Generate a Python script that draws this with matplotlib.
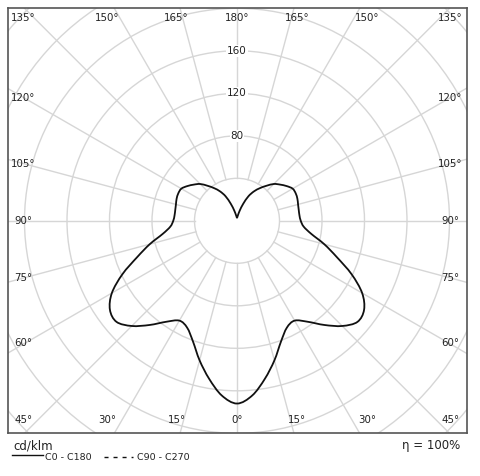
import numpy as np
import matplotlib.pyplot as plt
from matplotlib.patches import Circle, PathPatch
from matplotlib.path import Path
from matplotlib.lines import Line2D

# Lichtstärkeverteilung (cd/klm), C0 - C180, gamma 0..180 in 5°-Schritten
gamma = np.arange(0, 181, 5)
c0_c180 = [172, 165, 151, 136, 121, 111, 108.5, 116, 128, 140,
           148, 146, 136, 119, 100, 85, 71, 63, 60, 59,
           59, 59.5, 60.5, 61, 60.5, 57, 53, 49, 43, 37.5,
           32, 25.5, 17, 10, 5.5, 3.5, 2.5]

ring_values = [40, 80, 120, 160, 200, 240, 280]
ring_labels = [80, 120, 160]
spoke_angles = np.arange(0, 360, 15)
top_labels = [135, 150, 165, 180]
side_labels = [60, 75, 90, 105, 120]
bottom_labels = [0, 15, 30, 45]

W, H = 480, 476
S = 1.0625            # Pixel pro cd/klm
cx, cy = 237, 220.8   # Mittelpunkt in Pixeln
left, right, top, bottom = 8, 466.5, 8, 432.5

fig = plt.figure(figsize=(W / 100, H / 100), dpi=100)
ax = fig.add_axes([left / W, 1 - bottom / H, (right - left) / W, (bottom - top) / H])
ax.set_xlim((left - cx) / S, (right - cx) / S)
ax.set_ylim((cy - bottom) / S, (cy - top) / S)
ax.set_xticks([])
ax.set_yticks([])
for sp in ax.spines.values():
    sp.set_color('#555555')
    sp.set_linewidth(1.2)

grid = '#d6d6d6'
# Ringe
for r in ring_values:
    ax.add_patch(Circle((0, 0), r, fill=False, ec=grid, lw=1.0, zorder=1))
# Speichen (ab 40)
for a in spoke_angles:
    t = np.radians(a)
    ax.plot([40 * np.sin(t), 400 * np.sin(t)], [-40 * np.cos(t), -400 * np.cos(t)],
            color=grid, lw=1.0, zorder=1)

# Kurve (symmetrisch, geschlossen), glatt gezeichnet als Bezier-Pfad
g = np.radians(gamma)
r = np.array(c0_c180)
g_full = np.concatenate([g, 2 * np.pi - g[-2:0:-1]])
r_full = np.concatenate([r, r[-2:0:-1]])
P = np.column_stack([r_full * np.sin(g_full), -r_full * np.cos(g_full)])
n = len(P)
cusp = len(gamma) - 1   # Spitze bei 180°
verts = [P[0]]
codes = [Path.MOVETO]
for i in range(n):
    j = (i + 1) % n
    p0, p1, p2, p3 = P[i - 1], P[i], P[j], P[(i + 2) % n]
    c1 = p1 if i == cusp else p1 + (p2 - p0) / 6
    c2 = p2 if j == cusp else p2 - (p3 - p1) / 6
    verts += [c1, c2, p2]
    codes += [Path.CURVE4] * 3
ax.add_patch(PathPatch(Path(verts, codes), fill=False, ec='#111111', lw=1.3, zorder=3))

# Ringbeschriftung
for v in ring_labels:
    ax.text(0, v, str(v), ha='center', va='center', fontsize=7.5, color='#222222',
            bbox=dict(fc='white', ec='none', pad=0.6), zorder=2)

# Winkelbeschriftung am Rahmen
txt = dict(fontsize=7.4, color='#222222', ha='center', va='center', zorder=4)
for a in top_labels:
    dx = min(211.8 * np.tan(np.radians(180 - a)), 201)
    for s in ([1] if a == 180 else [-1, 1]):
        ax.text(s * dx, 190.6, f'{a}°', **txt)
for a in bottom_labels:
    dx = min(211.8 * np.tan(np.radians(a)), 201)
    for s in ([1] if a == 0 else [-1, 1]):
        ax.text(s * dx, -187.5, f'{a}°', **txt)
for a in side_labels:
    dy = 199.5 * np.tan(np.radians(a - 90))
    for s in [-1, 1]:
        ax.text(s * 201, dy, f'{a}°', **txt)

# Texte unten
fig.text(13 / W, 1 - 446 / H, 'cd/klm', fontsize=8.5, va='center', color='#222222')
fig.text(460 / W, 1 - 446 / H, 'η = 100%', fontsize=8.5, va='center', ha='right', color='#222222')
fig.add_artist(Line2D([12 / W, 43 / W], [1 - 455 / H] * 2, color='#111111', lw=1.0))
fig.text(45 / W, 1 - 458 / H, 'C0 - C180', fontsize=6.8, va='center', color='#222222')
fig.add_artist(Line2D([104 / W, 133 / W], [1 - 456.5 / H] * 2, color='#111111', lw=1.0,
                      dashes=(2.9, 3.6)))
fig.text(137 / W, 1 - 458 / H, 'C90 - C270', fontsize=6.8, va='center', color='#222222')

fig.savefig('out.png', dpi=100)
